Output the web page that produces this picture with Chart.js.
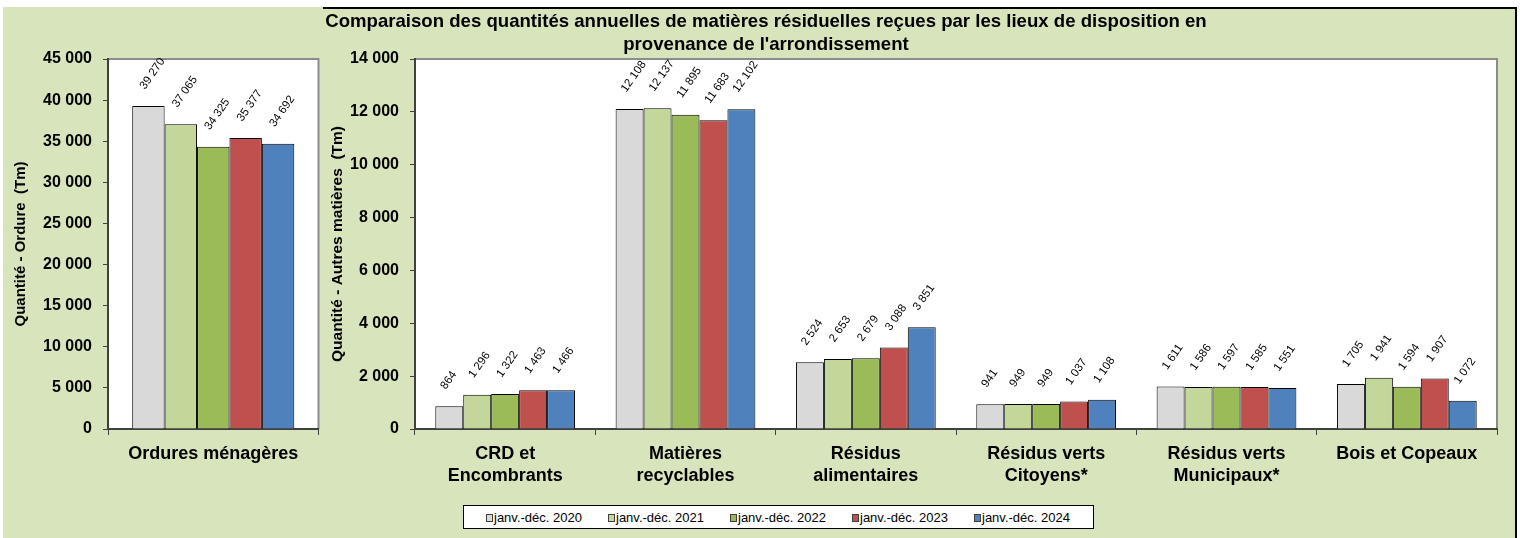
<!DOCTYPE html>
<html>
<head>
<meta charset="utf-8">
<script src="https://cdn.jsdelivr.net/npm/chart.js@4"></script>
<style>
  body { margin: 0; background: #fff; width: 1525px; height: 538px; position: relative; overflow: hidden; }
  #bg { position: absolute; left: 3px; top: 7px; width: 1512px; height: 531px; background: #D8E4BC; }
  #frame { position: absolute; left: 323px; top: 7px; width: 1194px; height: 531px; box-sizing: border-box;
           border-top: 2px solid #000; border-right: 2px solid #000; }
  #leftChart { position: absolute; left: 3px; top: 7px; }
  #rightChart { position: absolute; left: 323px; top: 9px; }
  #title { position: absolute; left: 266px; top: 9px; width: 1000px; text-align: center;
           font: bold 18.6px "Liberation Sans", Arial, sans-serif; line-height: 23px; color: #000; }
  #legend { position: absolute; left: 463px; top: 505px; width: 631px; height: 24px; box-sizing: border-box;
            background: #fff; border: 1px solid #000; }
  .item { position: absolute; top: 4px; font: 13px "Liberation Sans", Arial, sans-serif;
          white-space: nowrap; line-height: 15px; }
  .sw { display: inline-block; width: 5px; height: 6px; border: 1px solid #404040; margin-right: 1px; vertical-align: 0px; }
</style>
</head>
<body>
<div id="bg"></div>
<div id="frame"></div>
<canvas id="leftChart" width="320" height="531"></canvas>
<canvas id="rightChart" width="1192" height="529"></canvas>
<div id="title">Comparaison des quantités annuelles de matières résiduelles reçues par les lieux de disposition en<br>provenance de l'arrondissement</div>
<div id="legend"></div>
<script>
// Data
const years = ['janv.-déc. 2020', 'janv.-déc. 2021', 'janv.-déc. 2022', 'janv.-déc. 2023', 'janv.-déc. 2024'];
const colors = ['#D9D9D9', '#C4D79B', '#9BBB59', '#C0504D', '#4F81BD'];

const leftCategories = ['Ordures ménagères'];
const ordures = [39270, 37065, 34325, 35377, 34692];

const categories = [
    ['CRD et', 'Encombrants'],
    ['Matières', 'recyclables'],
    ['Résidus', 'alimentaires'],
    ['Résidus verts', 'Citoyens*'],
    ['Résidus verts', 'Municipaux*'],
    'Bois et Copeaux'
];
const v2020 = [864, 12108, 2524, 941, 1611, 1705];
const v2021 = [1296, 12137, 2653, 949, 1586, 1941];
const v2022 = [1322, 11895, 2679, 949, 1597, 1594];
const v2023 = [1463, 11683, 3088, 1037, 1585, 1907];
const v2024 = [1466, 12102, 3851, 1108, 1551, 1072];
const rightSeries = [v2020, v2021, v2022, v2023, v2024];

Chart.defaults.font.family = '"Liberation Sans", Arial, sans-serif';
Chart.defaults.color = '#000';

function fmt(v) {
    return String(Math.round(v)).replace(/\B(?=(\d{3})+(?!\d))/g, ' ');
}

// white plot area + grey top/right frame
const plotFrame = {
    id: 'plotFrame',
    beforeDraw(chart) {
        const { ctx, chartArea: a } = chart;
        ctx.save();
        ctx.fillStyle = '#fff';
        ctx.fillRect(a.left, a.top, a.right - a.left, a.bottom - a.top);
        ctx.strokeStyle = '#8C8C8C';
        ctx.lineWidth = 2;
        ctx.beginPath();
        ctx.moveTo(a.left, a.top);
        ctx.lineTo(a.right, a.top);
        ctx.lineTo(a.right, a.bottom);
        ctx.stroke();
        ctx.restore();
    }
};

// rotated value labels above bars
const barLabels = {
    id: 'barLabels',
    afterDatasetsDraw(chart) {
        const ctx = chart.ctx;
        ctx.save();
        ctx.font = '11.5px "Liberation Sans", Arial, sans-serif';
        ctx.fillStyle = '#000';
        ctx.textAlign = 'left';
        ctx.textBaseline = 'middle';
        chart.data.datasets.forEach((ds, i) => {
            chart.getDatasetMeta(i).data.forEach((bar, j) => {
                ctx.save();
                ctx.translate(bar.x - 6, bar.y - 18);
                ctx.rotate(-55 * Math.PI / 180);
                ctx.fillText(fmt(ds.data[j]), 0, 0);
                ctx.restore();
            });
        });
        ctx.restore();
    }
};

function makeDatasets(getData, catPct) {
    return years.map((y, i) => ({
        label: y,
        data: getData(i),
        backgroundColor: colors[i],
        borderColor: '#000',
        borderWidth: 1,
        barPercentage: 1,
        categoryPercentage: catPct
    }));
}

// 1. Left chart - Ordures ménagères
new Chart(document.getElementById('leftChart'), {
    type: 'bar',
    data: {
        labels: leftCategories,
        datasets: makeDatasets(i => [ordures[i]], 0.77)
    },
    options: {
        responsive: false,
        animation: false,
        layout: { padding: { top: 52, right: 4.5, left: 0, bottom: 49 } },
        plugins: { legend: { display: false }, tooltip: { enabled: false } },
        scales: {
            x: {
                grid: { offset: true, drawOnChartArea: false, tickLength: 6, color: '#404040', lineWidth: 1 },
                border: { color: '#404040', width: 2 },
                ticks: { font: { size: 18, weight: 'bold' }, padding: 8, maxRotation: 0 },
                afterFit: s => { s.height = 60; }
            },
            y: {
                min: 0, max: 45000,
                ticks: { stepSize: 5000, callback: v => fmt(v), font: { size: 16, weight: 'bold' }, padding: 11 },
                grid: { drawOnChartArea: false, tickLength: 5, color: '#404040' },
                border: { color: '#404040', width: 2 },
                title: { display: true, text: 'Quantité - Ordure  (Tm)', font: { size: 15, weight: 'bold' }, padding: { top: 9, bottom: 0 } },
                afterFit: s => { s.width = 105; }
            }
        }
    },
    plugins: [plotFrame, barLabels]
});

// 2. Right chart - autres matières
new Chart(document.getElementById('rightChart'), {
    type: 'bar',
    data: {
        labels: categories,
        datasets: makeDatasets(i => rightSeries[i], 0.775)
    },
    options: {
        responsive: false,
        animation: false,
        layout: { padding: { top: 50, right: 18, left: 0, bottom: 39 } },
        plugins: { legend: { display: false }, tooltip: { enabled: false } },
        scales: {
            x: {
                grid: { offset: true, drawOnChartArea: false, tickLength: 6, color: '#404040', lineWidth: 1 },
                border: { color: '#404040', width: 2 },
                ticks: { font: { size: 18, weight: 'bold', lineHeight: 1.22 }, padding: 8, maxRotation: 0, autoSkip: false },
                afterFit: s => { s.height = 70; }
            },
            y: {
                min: 0, max: 14000,
                ticks: { stepSize: 2000, callback: v => fmt(v), font: { size: 16, weight: 'bold' }, padding: 11 },
                grid: { drawOnChartArea: false, tickLength: 5, color: '#404040' },
                border: { color: '#404040', width: 2 },
                title: { display: true, text: 'Quantité - Autres matières  (Tm)', font: { size: 15.5, weight: 'bold' }, padding: { top: 5, bottom: 0 } },
                afterFit: s => { s.width = 92; }
            }
        }
    },
    plugins: [plotFrame, barLabels]
});

// Legend (shared)
const legend = document.getElementById('legend');
years.forEach((y, i) => {
    const item = document.createElement('div');
    item.className = 'item';
    item.style.left = (22 + i * 122) + 'px';
    const sw = document.createElement('span');
    sw.className = 'sw';
    sw.style.background = colors[i];
    item.appendChild(sw);
    item.appendChild(document.createTextNode(y));
    legend.appendChild(item);
});
</script>
</body>
</html>
